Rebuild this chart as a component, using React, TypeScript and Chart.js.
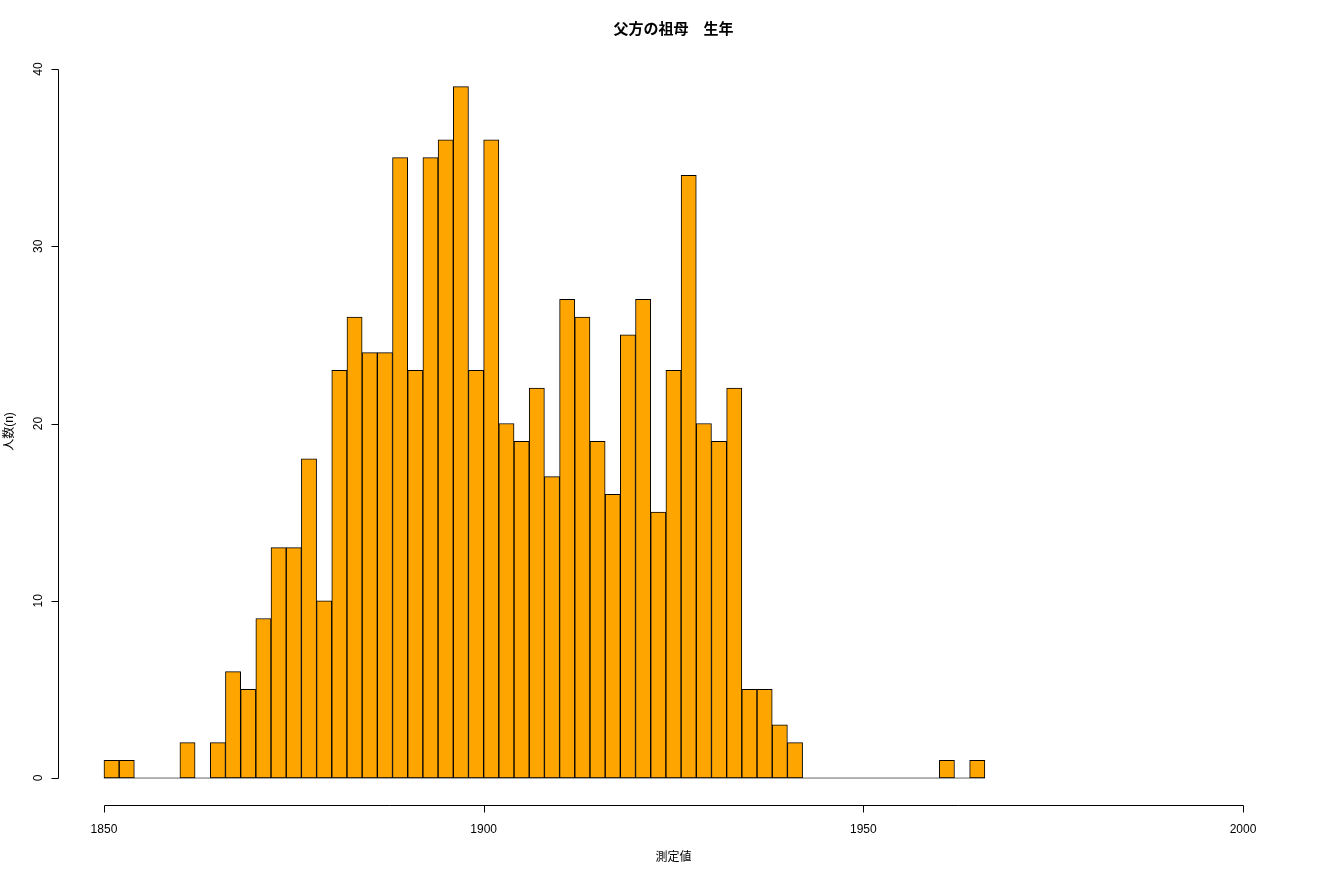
import React, { useEffect, useRef } from "react";
import { Chart, registerables } from "chart.js";

Chart.register(...registerables);

const binStarts = [
  1850, 1852, 1854, 1856, 1858, 1860, 1862, 1864, 1866, 1868,
  1870, 1872, 1874, 1876, 1878, 1880, 1882, 1884, 1886, 1888,
  1890, 1892, 1894, 1896, 1898, 1900, 1902, 1904, 1906, 1908,
  1910, 1912, 1914, 1916, 1918, 1920, 1922, 1924, 1926, 1928,
  1930, 1932, 1934, 1936, 1938, 1940, 1942, 1944, 1946, 1948,
  1950, 1952, 1954, 1956, 1958, 1960, 1962, 1964,
];
const counts = [
  1, 1, 0, 0, 0, 2, 0, 2, 6, 5,
  9, 13, 13, 18, 10, 23, 26, 24, 24, 35,
  23, 35, 36, 39, 23, 36, 20, 19, 22, 17,
  27, 26, 19, 16, 25, 27, 15, 23, 34, 20,
  19, 22, 5, 5, 3, 2, 0, 0, 0, 0,
  0, 0, 0, 0, 0, 1, 0, 1,
];
const binWidth = 2;
const xTicks = [1850, 1900, 1950, 2000];
const yTicks = [0, 10, 20, 30, 40];
const titleText = "父方の祖母　生年";
const xLabel = "測定値";
const yLabel = "人数(n)";

const FONT = '"Liberation Sans", "Noto Sans CJK JP", sans-serif';

const axesPlugin = {
  id: "rAxes",
  afterDraw(chart: any) {
    const ctx = chart.ctx as CanvasRenderingContext2D;
    const xs = chart.scales.x;
    const ys = chart.scales.y;
    const area = chart.chartArea;
    ctx.save();
    ctx.strokeStyle = "#000";
    ctx.fillStyle = "#000";
    ctx.lineWidth = 1;

    // x axis
    const ay = Math.round(area.bottom) - 0.5;
    const x0 = Math.round(xs.getPixelForValue(xTicks[0])) + 0.5;
    const x1 = Math.round(xs.getPixelForValue(xTicks[xTicks.length - 1])) + 0.5;
    ctx.beginPath();
    ctx.moveTo(x0, ay);
    ctx.lineTo(x1, ay);
    for (const t of xTicks) {
      const px = Math.round(xs.getPixelForValue(t)) + 0.5;
      ctx.moveTo(px, ay);
      ctx.lineTo(px, ay + 7);
    }
    ctx.stroke();
    ctx.font = "12px " + FONT;
    ctx.textAlign = "center";
    ctx.textBaseline = "middle";
    for (const t of xTicks) {
      ctx.fillText(String(t), xs.getPixelForValue(t), ay + 24);
    }

    // y axis
    const ax = Math.round(area.left) + 0.5;
    const y0 = Math.round(ys.getPixelForValue(yTicks[0])) + 0.5;
    const y1 = Math.round(ys.getPixelForValue(yTicks[yTicks.length - 1])) + 0.5;
    ctx.beginPath();
    ctx.moveTo(ax, y0);
    ctx.lineTo(ax, y1);
    for (const t of yTicks) {
      const py = Math.round(ys.getPixelForValue(t)) + 0.5;
      ctx.moveTo(ax, py);
      ctx.lineTo(ax - 7, py);
    }
    ctx.stroke();
    for (const t of yTicks) {
      ctx.save();
      ctx.translate(ax - 20, ys.getPixelForValue(t));
      ctx.rotate(-Math.PI / 2);
      ctx.fillText(String(t), 0, 0);
      ctx.restore();
    }

    // titles
    const cx = (area.left + area.right) / 2;
    ctx.font = "bold 15px " + FONT;
    ctx.fillText(titleText, cx, 30);
    ctx.font = "12px " + FONT;
    ctx.fillText(xLabel, cx, 858);
    ctx.save();
    ctx.translate(10, (area.top + area.bottom) / 2 + 8);
    ctx.rotate(-Math.PI / 2);
    ctx.fillText(yLabel, 0, 0);
    ctx.restore();
    ctx.restore();
  },
};

export default function App() {
  const ref = useRef<HTMLCanvasElement | null>(null);
  useEffect(() => {
    if (!ref.current) return;
    const barData = binStarts.map((s, i) => ({ x: s + binWidth / 2, y: counts[i] }));
    const baseData = [
      { x: binStarts[0], y: 0 },
      { x: binStarts[binStarts.length - 1] + binWidth, y: 0 },
    ];
    const chart = new Chart(ref.current, {
      type: "bar",
      data: {
        datasets: [
          {
            type: "bar",
            data: barData as any,
            backgroundColor: "#FFA500",
            borderColor: "#000000",
            borderWidth: 1,
            borderSkipped: false,
            barPercentage: 1,
            categoryPercentage: 1,
            order: 0,
          } as any,
          {
            type: "line",
            data: baseData as any,
            borderColor: "#666666",
            borderWidth: 1,
            pointRadius: 0,
            order: 1,
          } as any,
        ],
      },
      options: {
        responsive: false,
        animation: false,
        layout: { padding: { left: 58.4, right: 31.4, top: 40.6, bottom: 73.6 } },
        plugins: { legend: { display: false }, tooltip: { enabled: false } },
        scales: {
          x: { type: "linear", min: 1844, max: 2006, offset: false, display: false },
          y: { type: "linear", min: -1.6, max: 41.6, display: false },
        },
      },
      plugins: [axesPlugin],
    });
    return () => chart.destroy();
  }, []);
  return (
    <div style={{ position: "absolute", left: 0, top: 0, width: 1320, height: 880, background: "#fff" }}>
      <canvas ref={ref} width={1320} height={880} style={{ display: "block" }} />
    </div>
  );
}
